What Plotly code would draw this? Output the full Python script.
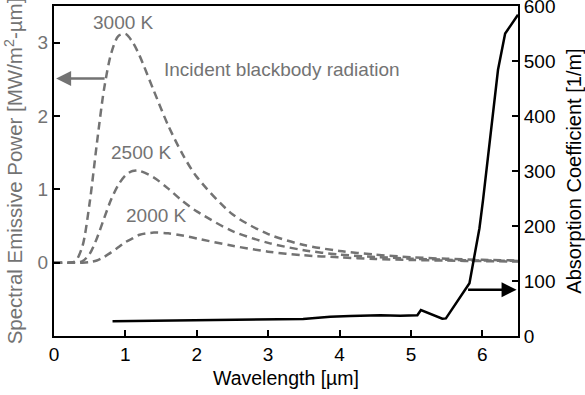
import plotly.graph_objects as go

# Wavelength grid [µm] for the blackbody curves
wavelength = [0.0, 0.2, 0.3, 0.4, 0.5, 0.6, 0.7, 0.8, 0.9, 1.0, 1.1, 1.2, 1.4,
              1.6, 1.8, 2.0, 2.5, 3.0, 3.5, 4.0, 4.5, 5.0, 5.5, 6.0, 6.5]

# Spectral emissive power [MW/m²-µm]
power_3000 = [0.0, 0.0, 0.02, 0.23, 0.82, 1.62, 2.36, 2.85, 3.09, 3.12, 3.01, 2.82, 2.34,
              1.87, 1.48, 1.17, 0.66, 0.39, 0.24, 0.16, 0.11, 0.074, 0.053, 0.039, 0.030]
power_2500 = [0.0, 0.0, 0.0, 0.02, 0.12, 0.33, 0.60, 0.86, 1.06, 1.19, 1.25, 1.25, 1.16,
              1.01, 0.84, 0.70, 0.43, 0.27, 0.17, 0.11, 0.078, 0.055, 0.040, 0.030, 0.023]
power_2000 = [0.0, 0.0, 0.0, 0.0, 0.007, 0.03, 0.077, 0.14, 0.21, 0.28, 0.33, 0.38, 0.41,
              0.40, 0.37, 0.33, 0.23, 0.15, 0.10, 0.073, 0.051, 0.037, 0.028, 0.021, 0.016]

# Absorption coefficient [1/m]
abs_wavelength = [0.82, 1.5, 2.05, 2.6, 3.17, 3.49, 3.7, 3.87, 4.15, 4.57, 4.85, 5.09, 5.14,
                  5.44, 5.49, 5.78, 5.82, 5.96, 6.01, 6.22, 6.32, 6.50]
abs_coeff = [27, 27.8, 28.5, 29.2, 30.4, 31, 33, 35, 36.4, 37.6, 36.8, 37.6, 47.3,
             31.5, 32, 86.7, 96, 196, 247, 484, 550, 584]

GRAY = "#737373"
FONT = "Liberation Sans, Arial, Helvetica, sans-serif"
TXT = 19

fig = go.Figure()

for power in (power_3000, power_2500, power_2000):
    fig.add_trace(go.Scatter(
        x=wavelength, y=power, mode="lines",
        line=dict(color=GRAY, width=2.5, dash="8px,5px", shape="spline", smoothing=0.8),
        showlegend=False, hoverinfo="skip", yaxis="y"))

fig.add_trace(go.Scatter(
    x=abs_wavelength, y=abs_coeff, mode="lines",
    line=dict(color="black", width=2.5),
    showlegend=False, hoverinfo="skip", yaxis="y2"))

annotations = [
    dict(x=0.98, y=3.27, text="3000 K", showarrow=False, xref="x", yref="y",
         font=dict(color=GRAY, size=TXT)),
    dict(x=1.51, y=2.63, text="Incident blackbody radiation", showarrow=False,
         xref="x", yref="y", xanchor="left", font=dict(color=GRAY, size=TXT)),
    dict(x=1.23, y=1.50, text="2500 K", showarrow=False, xref="x", yref="y",
         font=dict(color=GRAY, size=TXT)),
    dict(x=1.43, y=0.64, text="2000 K", showarrow=False, xref="x", yref="y",
         font=dict(color=GRAY, size=TXT)),
    # Arrow pointing from the 3000 K curve to the left axis
    dict(x=0.03, y=2.51, ax=0.73, ay=2.51, xref="x", yref="y", axref="x", ayref="y",
         text="", showarrow=True, arrowhead=2, arrowsize=1.2, arrowwidth=2.5,
         arrowcolor=GRAY),
    # Arrow pointing from the absorption curve to the right axis
    dict(x=6.48, y=84, ax=5.78, ay=84, xref="x", yref="y2", axref="x", ayref="y2",
         text="", showarrow=True, arrowhead=2, arrowsize=1.2, arrowwidth=2.5,
         arrowcolor="black"),
]

fig.update_layout(
    width=585, height=395,
    margin=dict(l=54, r=67, t=6, b=59, autoexpand=False),
    paper_bgcolor="white", plot_bgcolor="white",
    font=dict(family=FONT, size=TXT, color="black"),
    annotations=annotations,
    xaxis=dict(
        range=[0, 6.5], tickvals=[0, 1, 2, 3, 4, 5, 6], automargin=False,
        showline=True, linecolor="black", linewidth=2, mirror=True,
        ticks="inside", ticklen=6, tickwidth=1.5, tickcolor="black",
        showgrid=False, zeroline=False,
        tickfont=dict(size=TXT, color="black"),
        title=dict(text="Wavelength [µm]", font=dict(size=19.5, color="black"), standoff=8),
    ),
    yaxis=dict(
        range=[-1, 3.5], tickvals=[0, 1, 2, 3], automargin=False,
        showline=True, linecolor="black", linewidth=2,
        ticks="inside", ticklen=6, tickwidth=1.5, tickcolor="black",
        showgrid=False, zeroline=False, ticklabeloverflow="allow",
        tickfont=dict(size=TXT, color=GRAY),
        title=dict(text="Spectral Emissive Power [MW/m<sup>2</sup>-µm]",
                   font=dict(size=20.5, color=GRAY), standoff=9),
    ),
    yaxis2=dict(
        range=[0, 600], tickvals=[0, 100, 200, 300, 400, 500, 600], automargin=False,
        overlaying="y", side="right",
        showline=True, linecolor="black", linewidth=2,
        ticks="inside", ticklen=6, tickwidth=1.5, tickcolor="black",
        showgrid=False, zeroline=False, ticklabeloverflow="allow",
        tickfont=dict(size=TXT, color="black"),
        title=dict(text="Absorption Coefficient [1/m]",
                   font=dict(size=20, color="black"), standoff=20),
    ),
)

fig.write_html("out.html")
